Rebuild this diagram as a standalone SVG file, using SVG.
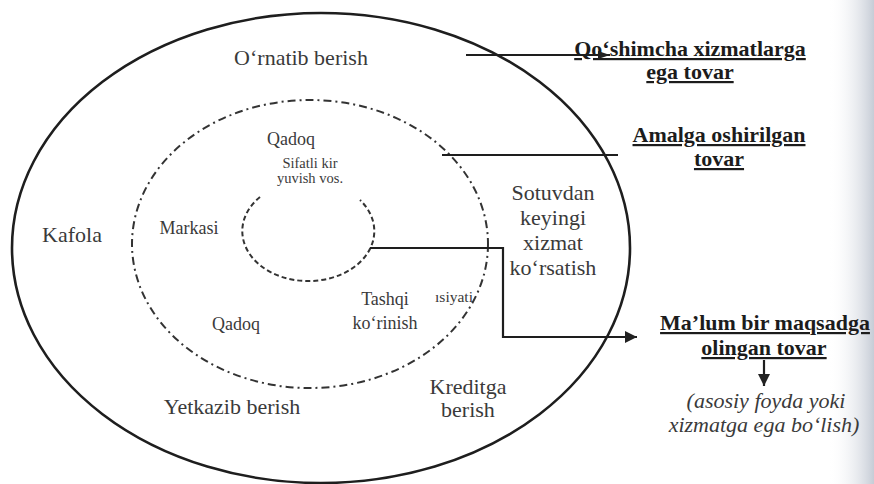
<svg xmlns="http://www.w3.org/2000/svg" width="874" height="484" viewBox="0 0 874 484" font-family="Liberation Serif, Times New Roman, serif">
<defs>
  <linearGradient id="shade" x1="0" x2="1" y1="0" y2="0">
    <stop offset="0" stop-color="#ffffff" stop-opacity="0"/>
    <stop offset="1" stop-color="#c6ccd6"/>
  </linearGradient>
  <marker id="arrS" markerWidth="12" markerHeight="8" refX="12" refY="4" orient="auto" markerUnits="userSpaceOnUse">
    <path d="M0,0 L12,4 L0,8 Z" fill="#222"/>
  </marker>
  <marker id="arrB" markerWidth="12" markerHeight="12" refX="12" refY="6" orient="auto" markerUnits="userSpaceOnUse">
    <path d="M0,0 L12,6 L0,12 Z" fill="#222"/>
  </marker>
</defs>
<style>
  text{fill:#3a3a3a;text-anchor:middle}
  .c{font-size:22px}
  .m{font-size:18px}
  .s{font-size:14.5px}
  .b{font-weight:bold;fill:#1c1c1c;font-size:22px;text-decoration:underline}
  .i{font-style:italic;font-size:22px;fill:#3a3a3a}
  .ln{stroke:#1e1e1e;stroke-width:2.2;fill:none}
  .outer{fill:none;stroke:#1e1e1e;stroke-width:2.6}
  .mid{fill:none;stroke:#333;stroke-width:2;stroke-dasharray:8 4 2 4}
  .inn{fill:none;stroke:#333;stroke-width:2;stroke-dasharray:5 3}
</style>
<rect width="874" height="484" fill="#ffffff"/>
<rect x="828" y="0" width="46" height="484" fill="url(#shade)"/>

<g id="ring-outer">
  <ellipse class="outer" cx="321" cy="248" rx="309" ry="235"/>
  <text class="c" x="301" y="65">O‘rnatib berish</text>
  <text class="c" x="72" y="242">Kafola</text>
  <text class="c" x="232" y="414">Yetkazib berish</text>
  <text class="c" x="468" y="394">Kreditga</text>
  <text class="c" x="468" y="417">berish</text>
  <text class="c" x="553" y="200">Sotuvdan</text>
  <text class="c" x="553" y="225">keyingi</text>
  <text class="c" x="553" y="250">xizmat</text>
  <text class="c" x="553" y="275">ko‘rsatish</text>
</g>

<g id="ring-middle">
  <ellipse class="mid" cx="310" cy="244" rx="178" ry="144"/>
  <text class="m" x="291" y="145">Qadoq</text>
  <text class="m" x="189" y="234">Markasi</text>
  <text class="m" x="236" y="330">Qadoq</text>
  <text class="m" x="385" y="305">Tashqi</text>
  <text class="m" x="385" y="329">ko‘rinish</text>
  <text x="454" y="302" style="font-size:15.5px">ısiyati</text>
</g>

<g id="ring-core">
  <path class="inn" d="M260,197 A66,50 0 1 0 360,200"/>
  <text class="s" x="310" y="168">Sifatli kir</text>
  <text class="s" x="310" y="183">yuvish vos.</text>
</g>

<g id="label-augmented">
  <text class="b" x="690" y="56">Qo‘shimcha xizmatlarga</text>
  <text class="b" x="690" y="79">ega tovar</text>
</g>

<g id="label-actual">
  <text class="b" x="719" y="142">Amalga oshirilgan</text>
  <text class="b" x="719" y="166">tovar</text>
</g>

<g id="label-core">
  <text class="b" x="765" y="330">Ma’lum bir maqsadga</text>
  <text class="b" x="764" y="355">olingan tovar</text>
  <text class="i" x="766" y="408">(asosiy foyda yoki</text>
  <text class="i" x="764" y="432">xizmatga ega bo‘lish)</text>
</g>

<g id="connectors">
  <path class="ln" d="M466,55 H610" marker-end="url(#arrS)"/>
  <path class="ln" d="M442,155 H618"/>
  <path class="ln" d="M370,248 H503 V337 H637" marker-end="url(#arrB)"/>
  <path class="ln" d="M764,360 V386" marker-end="url(#arrB)"/>
</g>
</svg>
